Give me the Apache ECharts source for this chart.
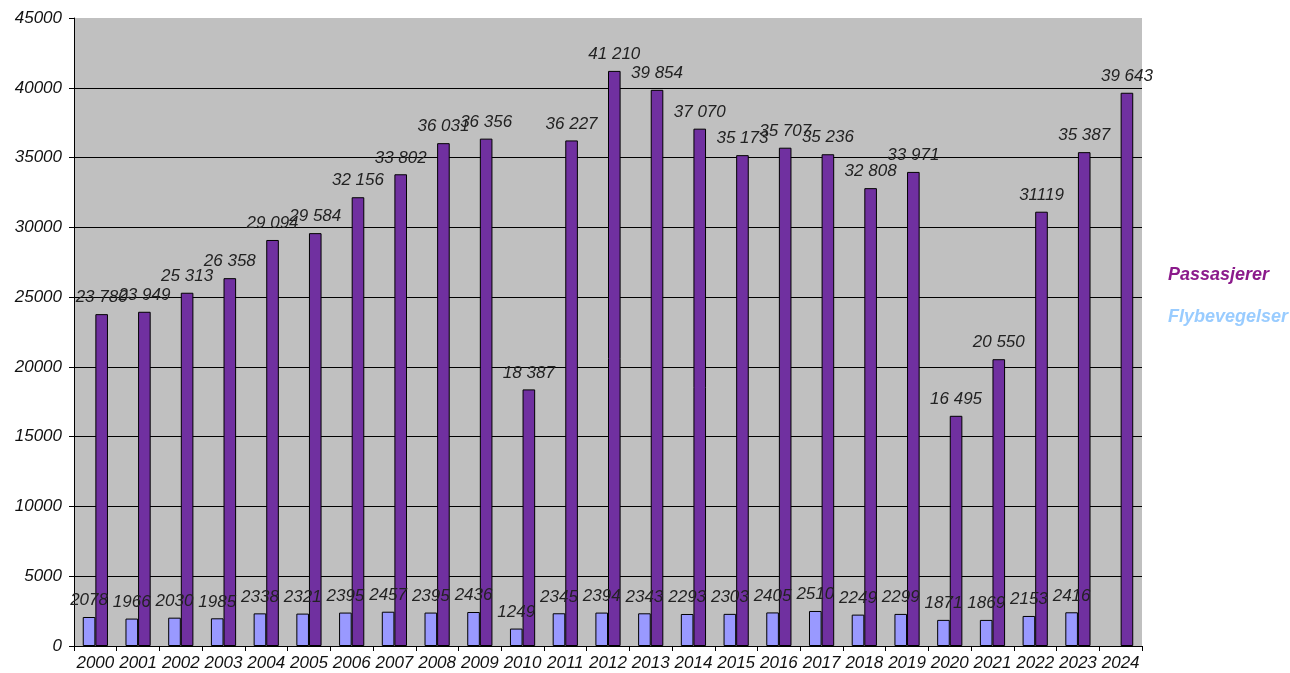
<!DOCTYPE html>
<html>
<head>
<meta charset="utf-8">
<script src="https://cdn.jsdelivr.net/npm/echarts@6/dist/echarts.min.js"></script>
<style>
  html, body { margin: 0; padding: 0; background: #fff; }
</style>
</head>
<body>
<div id="main" style="width: 1290px; height: 673px"></div>
<script>
// år
const years = ['2000', '2001', '2002', '2003', '2004', '2005', '2006', '2007', '2008', '2009',
  '2010', '2011', '2012', '2013', '2014', '2015', '2016', '2017', '2018', '2019',
  '2020', '2021', '2022', '2023', '2024']
// flybevegelser (ingen verdi for 2024)
const flyValues = [2078, 1966, 2030, 1985, 2338, 2321, 2395, 2457, 2395, 2436,
  1249, 2345, 2394, 2343, 2293, 2303, 2405, 2510, 2249, 2299,
  1871, 1869, 2153, 2416, null]
// passasjerer
const passValues = [23780, 23949, 25313, 26358, 29094, 29584, 32156, 33802, 36031, 36356,
  18387, 36227, 41210, 39854, 37070, 35173, 35707, 35236, 32808, 33971,
  16495, 20550, 31119, 35387, 39643]
// etiketter slik de står i figuren
const passLabels = ['23 780', '23 949', '25 313', '26 358', '29 094', '29 584', '32 156', '33 802', '36 031', '36 356',
  '18 387', '36 227', '41 210', '39 854', '37 070', '35 173', '35 707', '35 236', '32 808', '33 971',
  '16 495', '20 550', '31119', '35 387', '39 643']
const yTicks = { min: 0, max: 45000, interval: 5000 }

const myChart = echarts.init(document.getElementById('main'))

const labelStyle = {
  show: true,
  position: 'top',
  distance: 8,
  fontFamily: 'Liberation Sans, Arial',
  fontStyle: 'italic',
  fontSize: 17,
  color: '#222'
}

const option = {
  animation: false,
  grid: {
    left: 74,
    right: 148,
    top: 18,
    bottom: 27,
    show: true,
    backgroundColor: '#c0c0c0',
    borderWidth: 0
  },
  xAxis: {
    type: 'category',
    data: years,
    axisLine: { lineStyle: { color: '#000', width: 1 } },
    axisTick: { show: true, length: 5, lineStyle: { color: '#000' } },
    axisLabel: {
      interval: 0,
      margin: 9,
      fontFamily: 'Liberation Sans, Arial',
      fontStyle: 'italic',
      fontSize: 17,
      color: '#111'
    }
  },
  yAxis: {
    type: 'value',
    min: yTicks.min,
    max: yTicks.max,
    interval: yTicks.interval,
    axisLine: { show: true, lineStyle: { color: '#000', width: 1 } },
    axisTick: { show: true, length: 5, lineStyle: { color: '#000' } },
    splitLine: { show: true, showMaxLine: false, lineStyle: { color: '#000', width: 1 } },
    axisLabel: {
      margin: 12,
      formatter: function(v) { return String(v) },
      fontFamily: 'Liberation Sans, Arial',
      fontStyle: 'italic',
      fontSize: 17,
      color: '#111'
    }
  },
  series: [
    {
      name: 'Flybevegelser',
      type: 'bar',
      data: flyValues,
      barGap: 0,
      barCategoryGap: '41%',
      itemStyle: { color: '#9999ff', borderColor: '#000', borderWidth: 1 },
      label: labelStyle
    },
    {
      name: 'Passasjerer',
      type: 'bar',
      data: passValues,
      barGap: 0,
      barCategoryGap: '41%',
      itemStyle: { color: '#7030a0', borderColor: '#000', borderWidth: 1 },
      label: Object.assign({}, labelStyle, {
        formatter: function(p) { return passLabels[p.dataIndex] }
      })
    }
  ],
  graphic: [
    {
      type: 'text',
      left: 1168,
      top: 266,
      style: {
        text: 'Passasjerer',
        fill: '#8b1a8b',
        font: 'italic bold 18px "Liberation Sans", Arial'
      }
    },
    {
      type: 'text',
      left: 1168,
      top: 308,
      style: {
        text: 'Flybevegelser',
        fill: '#99ccff',
        font: 'italic bold 18px "Liberation Sans", Arial'
      }
    }
  ]
}
myChart.setOption(option)
</script>
</body>
</html>
